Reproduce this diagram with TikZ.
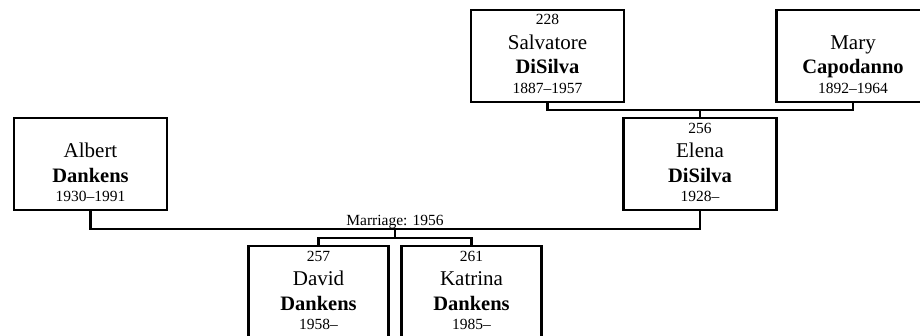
\documentclass[tikz,border=0pt]{standalone}
\usepackage{fontspec}
\setmainfont{Liberation Serif}
\tikzset{
  pbox/.style={draw, line width=2.2pt, minimum height=92pt, inner sep=0pt, anchor=north},
  smalltxt/.style={font=\fontsize{15.5}{18}\selectfont, anchor=base, inner sep=0pt},
  bigtxt/.style={font=\fontsize{21}{25}\selectfont, anchor=base, inner sep=0pt},
  bigbold/.style={font=\fontsize{20.5}{25}\selectfont\bfseries, anchor=base, inner sep=0pt},
  conn/.style={line width=2.2pt},
}
% #1 name, #2 centre x, #3 top y, #4 width, #5 number, #6 first, #7 last, #8 dates
\newcommand\fambox[8]{%
  \node[pbox, minimum width=#4pt] (#1) at (#2,#3) {};
  \if\relax\detokenize{#5}\relax\else
    \node[smalltxt] (#1num) at ([yshift=-16pt]#1.north) {#5};
  \fi
  \node[bigtxt] (#1first) at ([yshift=-40.5pt]#1.north) {#6};
  \node[bigbold] (#1last) at ([yshift=-65pt]#1.north) {#7};
  \node[smalltxt] (#1dates) at ([yshift=-84.5pt]#1.north) {#8};
}
\begin{document}
\begin{tikzpicture}[x=1pt,y=-1pt]
  \clip (0,0) rectangle (920,335);
  \fambox{sal}{547.5}{8.5}{153}{228}{Salvatore}{DiSilva}{1887–1957}
  \fambox{mary}{853}{8.5}{153}{}{Mary}{Capodanno}{1892–1964}
  \fambox{elena}{700}{117}{153}{256}{Elena}{DiSilva}{1928–}
  \fambox{albert}{90.5}{117}{153}{}{Albert}{Dankens}{1930–1991}
  \fambox{david}{318.5}{245}{140}{257}{David}{Dankens}{1958–}
  \fambox{katrina}{471.5}{245}{140}{261}{Katrina}{Dankens}{1985–}

  \coordinate (pj) at (700,110);
  \draw[conn] (sal.south) |- (pj) -| (mary.south);
  \draw[conn] (pj) -- (elena.north);

  \coordinate (mj) at (395,229);
  \draw[conn] (albert.south) |- (mj) -| (elena.south);
  \node[smalltxt] (mlabel) at (395,225.5) {Marriage: 1956};

  \coordinate (cj) at (395,238);
  \draw[conn] (mj) -- (cj);
  \draw[conn] (david.north) |- (cj) -| (katrina.north);
\end{tikzpicture}
\end{document}
